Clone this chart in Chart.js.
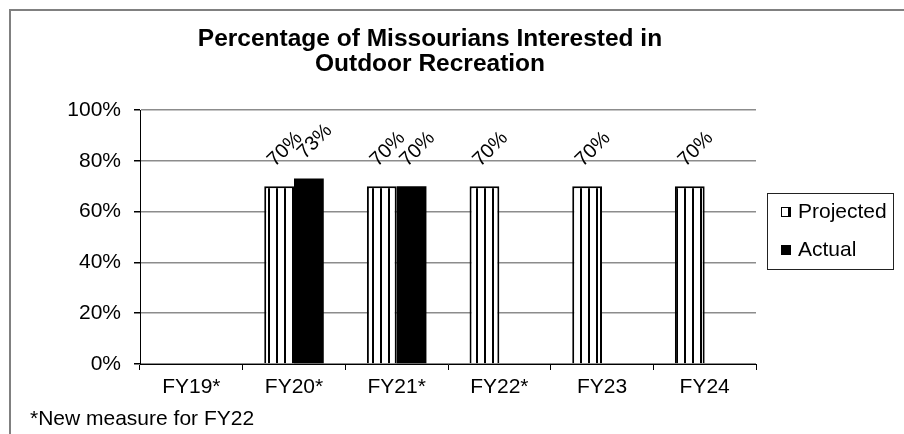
<!DOCTYPE html>
<html>
<head>
<meta charset="utf-8">
<script src="https://cdn.jsdelivr.net/npm/chart.js@4.4.1/dist/chart.umd.min.js"></script>
<style>
  html, body { margin: 0; padding: 0; background: #fff; }
  #wrap { position: relative; width: 904px; height: 434px; overflow: hidden; }
  #frame { position: absolute; left: 9px; top: 9px; width: 2000px; height: 2000px;
           border-top: 2px solid #808080; border-left: 2px solid #808080; }
  canvas { position: absolute; left: 0; top: 0; }
</style>
</head>
<body>
<div id="wrap">
  <div id="frame"></div>
  <canvas id="chart" width="904" height="434"></canvas>
</div>
<script>
// ── Data ──────────────────────────────────────────────────────────────────────
const categories = ["FY19*", "FY20*", "FY21*", "FY22*", "FY23", "FY24"];
const projected  = [null, 70, 70, 70, 70, 70];
const actual     = [null, 73, 70, null, null, null];
const yTicks     = [0, 20, 40, 60, 80, 100];
const titleLines = ["Percentage of Missourians Interested in", "Outdoor Recreation"];
const footnote   = "*New measure for FY22";

const FONT = "'Liberation Sans', Arial, sans-serif";

// vertical stripe fill for the projected bars
function stripePattern() {
  const c = document.createElement("canvas");
  c.width = 8; c.height = 8;
  const g = c.getContext("2d");
  g.fillStyle = "#fff"; g.fillRect(0, 0, 8, 8);
  g.fillStyle = "#000"; g.fillRect(4, 0, 2, 8);
  return g.createPattern(c, "repeat");
}
const stripes = stripePattern();

// ── Plugins: title, footnote, rotated value labels, legend ───────────────────
const decorations = {
  id: "decorations",
  afterDraw(chart) {
    const ctx = chart.ctx;
    ctx.save();
    ctx.fillStyle = "#000";

    // title
    ctx.font = "bold 24.5px " + FONT;
    ctx.textAlign = "center";
    ctx.textBaseline = "alphabetic";
    ctx.fillText(titleLines[0], 430, 45.5);
    ctx.fillText(titleLines[1], 430, 70.5);

    // footnote
    ctx.font = "21px " + FONT;
    ctx.textAlign = "left";
    ctx.textBaseline = "middle";
    ctx.fillText(footnote, 30, 419);

    // value labels, rotated 45°
    ctx.font = "20px " + FONT;
    ctx.textAlign = "center";
    chart.data.datasets.forEach((ds, i) => {
      chart.getDatasetMeta(i).data.forEach((bar, j) => {
        const v = ds.data[j];
        if (v == null) return;
        ctx.save();
        ctx.translate(bar.x + 6, bar.y - 37);
        ctx.rotate(-Math.PI / 4);
        ctx.fillText(v + "%", 0, 0);
        ctx.restore();
      });
    });

    // legend
    const lx = 767, ly = 193, lw = 126, lh = 76;
    ctx.strokeStyle = "#222";
    ctx.lineWidth = 1;
    ctx.strokeRect(lx + 0.5, ly + 0.5, lw, lh);
    ctx.font = "21px " + FONT;
    ctx.textAlign = "left";
    const rows = [212, 250];
    chart.data.datasets.forEach((ds, i) => {
      const y = rows[i];
      ctx.fillStyle = ds.backgroundColor;
      ctx.fillRect(781, y - 5, 10, 10);
      ctx.strokeStyle = "#000";
      ctx.strokeRect(781.5, y - 4.5, 9, 9);
      ctx.fillStyle = "#000";
      ctx.fillText(ds.label, 798, y);
    });
    ctx.restore();
  }
};

// ── Chart ─────────────────────────────────────────────────────────────────────
new Chart(document.getElementById("chart"), {
  type: "bar",
  data: {
    labels: categories,
    datasets: [
      { label: "Projected", data: projected, backgroundColor: stripes,
        borderColor: "#000", borderWidth: 2 },
      { label: "Actual", data: actual, backgroundColor: "#000",
        borderColor: "#000", borderWidth: 0 },
    ],
  },
  options: {
    responsive: false,
    animation: false,
    events: [],
    layout: { padding: { top: 110, left: 0, right: 148, bottom: 30 } },
    datasets: { bar: { categoryPercentage: 0.58, barPercentage: 1.0 } },
    plugins: { legend: { display: false }, title: { display: false }, tooltip: { enabled: false } },
    scales: {
      x: {
        afterFit: s => { s.height = 40; },
        grid: { offset: true, drawOnChartArea: false, tickLength: 6, tickColor: "#000" },
        border: { color: "#000", width: 1 },
        ticks: { color: "#000", font: { family: FONT, size: 21 }, padding: 5, maxRotation: 0 },
      },
      y: {
        min: yTicks[0], max: yTicks[yTicks.length - 1],
        afterFit: s => { s.width = 140; },
        afterBuildTicks: s => { s.ticks = yTicks.map(v => ({ value: v })); },
        grid: { color: "#8c8c8c", lineWidth: 1.5, tickLength: 6, tickColor: "#000" },
        border: { color: "#000", width: 1 },
        ticks: { color: "#000", font: { family: FONT, size: 21 }, padding: 13,
                 callback: v => v + "%" },
      },
    },
  },
  plugins: [decorations],
});
</script>
</body>
</html>
